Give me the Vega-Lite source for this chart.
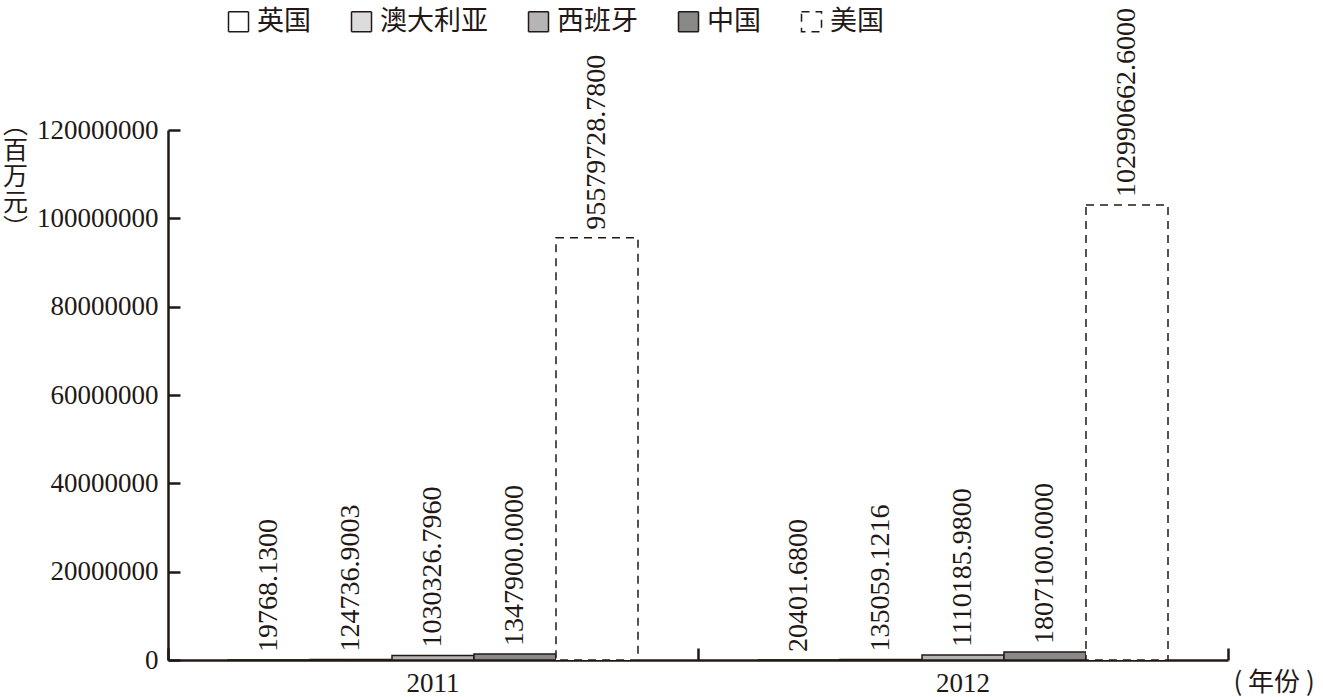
{
  "$schema": "https://vega.github.io/schema/vega-lite/v6.json",
  "width": 1060,
  "height": 530,
  "autosize": "none",
  "padding": {"left": 168, "top": 130, "right": 95, "bottom": 37},
  "background": "white",
  "config": {"view": {"stroke": null}, "font": "Liberation Serif"},
  "data": {
    "values": [
      {"year": "2011", "country": "英国", "value": 19768.13, "label": "19768.1300"},
      {"year": "2011", "country": "澳大利亚", "value": 124736.9003, "label": "124736.9003"},
      {"year": "2011", "country": "西班牙", "value": 1030326.796, "label": "1030326.7960"},
      {"year": "2011", "country": "中国", "value": 1347900, "label": "1347900.0000"},
      {"year": "2011", "country": "美国", "value": 95579728.78, "label": "95579728.7800"},
      {"year": "2012", "country": "英国", "value": 20401.68, "label": "20401.6800"},
      {"year": "2012", "country": "澳大利亚", "value": 135059.1216, "label": "135059.1216"},
      {"year": "2012", "country": "西班牙", "value": 1110185.98, "label": "1110185.9800"},
      {"year": "2012", "country": "中国", "value": 1807100, "label": "1807100.0000"},
      {"year": "2012", "country": "美国", "value": 102990662.6, "label": "102990662.6000"}
    ]
  },
  "encoding": {
    "x": {
      "field": "year",
      "type": "nominal",
      "scale": {"paddingInner": 0, "paddingOuter": 0},
      "axis": {
        "title": "( 年份 )",
        "titleFont": "Noto Sans CJK SC",
        "titleFontSize": 26,
        "titleFontWeight": "normal",
        "titleColor": "#231815",
        "titleX": 1065,
        "titleY": 22,
        "titleAlign": "left",
        "titleBaseline": "middle",
        "titleAnchor": null,
        "labelAngle": 0,
        "labelFontSize": 27,
        "labelColor": "#231815",
        "labelPadding": 22,
        "tickSize": -12,
        "tickWidth": 2.5,
        "tickColor": "#231815",
        "bandPosition": 1,
        "tickExtra": true,
        "domainColor": "#231815",
        "domainWidth": 2.5,
        "grid": false
      }
    },
    "xOffset": {
      "field": "country",
      "type": "nominal",
      "sort": ["英国", "澳大利亚", "西班牙", "中国", "美国"],
      "scale": {"paddingInner": 0, "paddingOuter": 0.7317}
    },
    "y": {
      "field": "value",
      "type": "quantitative",
      "scale": {"domain": [0, 120000000], "nice": false},
      "axis": {
        "title": ["︵", "百", "万", "元", "︶"],
        "titleAngle": 0,
        "titleFont": "Noto Sans CJK SC",
        "titleFontSize": 25,
        "titleFontWeight": "normal",
        "titleLineHeight": 26,
        "titleColor": "#231815",
        "titleX": -153,
        "titleY": -18,
        "titleAlign": "center",
        "titleBaseline": "top",
        "values": [0, 20000000, 40000000, 60000000, 80000000, 100000000, 120000000],
        "format": "d",
        "labelFontSize": 27,
        "labelColor": "#231815",
        "labelPadding": 22,
        "tickSize": -12,
        "tickWidth": 2.5,
        "tickColor": "#231815",
        "domainColor": "#231815",
        "domainWidth": 2.5,
        "grid": false
      }
    }
  },
  "layer": [
    {
      "mark": {"type": "bar", "stroke": "#231815", "strokeWidth": 1.5},
      "encoding": {
        "fill": {
          "field": "country",
          "type": "nominal",
          "sort": ["英国", "澳大利亚", "西班牙", "中国", "美国"],
          "scale": {
            "domain": ["英国", "澳大利亚", "西班牙", "中国", "美国"],
            "range": ["#ffffff", "#dcdcdd", "#b5b5b6", "#898989", "#ffffff"]
          },
          "legend": {
            "title": null,
            "orient": "none",
            "legendX": 57,
            "legendY": -122,
            "direction": "horizontal",
            "columns": 5,
            "symbolType": "square",
            "symbolSize": 400,
            "symbolStrokeColor": "#231815",
            "symbolStrokeWidth": 1.5,
            "labelFont": "Noto Sans CJK SC",
            "labelFontSize": 27,
            "labelColor": "#231815",
            "labelOffset": 5,
            "columnPadding": 37,
            "labelLimit": 300,
            "encode": {
              "symbols": {
                "update": {
                  "stroke": {"value": "#231815"},
                  "strokeDash": {"signal": "datum.value === '美国' ? [5, 4] : [1, 0]"}
                }
              }
            }
          }
        },
        "strokeDash": {
          "field": "country",
          "type": "nominal",
          "scale": {
            "domain": ["英国", "澳大利亚", "西班牙", "中国", "美国"],
            "range": [[1, 0], [1, 0], [1, 0], [1, 0], [8, 6]]
          },
          "legend": null
        }
      }
    },
    {
      "mark": {
        "type": "text",
        "angle": 270,
        "align": "left",
        "baseline": "middle",
        "dx": 8,
        "font": "Liberation Serif",
        "fontSize": 28,
        "color": "#231815"
      },
      "encoding": {"text": {"field": "label", "type": "nominal"}}
    }
  ]
}
